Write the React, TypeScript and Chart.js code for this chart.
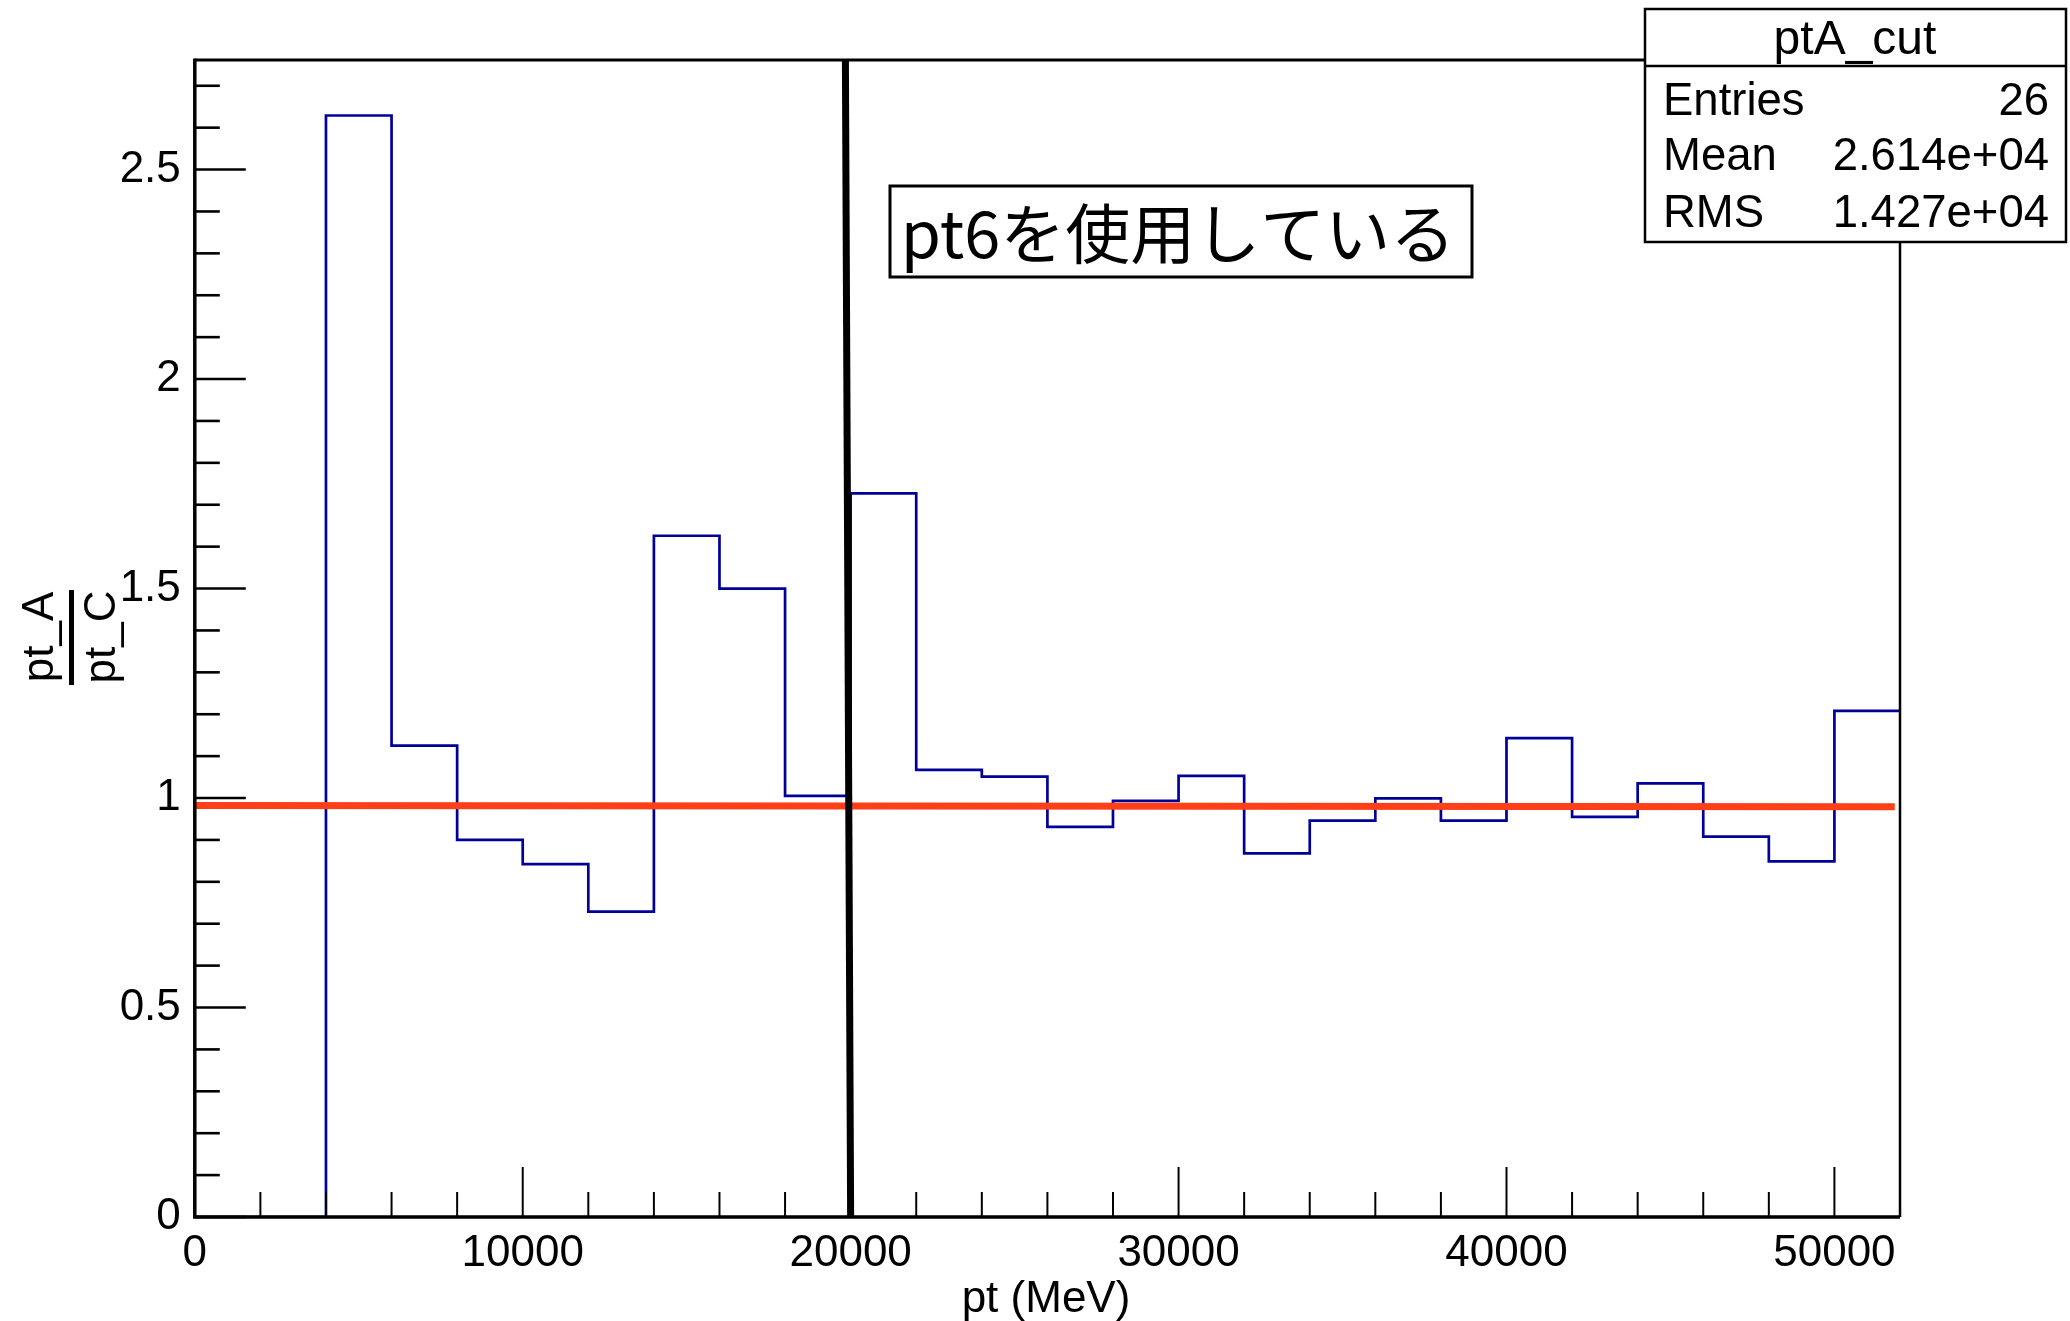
import React, { useEffect, useRef } from "react";
import { Chart, registerables } from "chart.js";

Chart.register(...registerables);

// ---- data ----
const binLow = 0;
const binWidth = 2000;
const binValues = [
  0, 0, 2.629, 1.125, 0.9, 0.842, 0.729, 1.626, 1.5, 1.005,
  1.727, 1.067, 1.051, 0.931, 0.993, 1.053, 0.868, 0.946, 0.999, 0.946,
  1.143, 0.955, 1.035, 0.908, 0.849, 1.208,
];
const fitX = [0, 51840];
const fitY = [0.982, 0.979];
const cutX = [20000, 19840];
const cutY = [0, 2.7615];
const xMin = 0;
const xMax = 52000;
const yMin = 0;
const yMax = 2.7615;
const xTickValues = [0, 10000, 20000, 30000, 40000, 50000];
const yTickValues = [0, 0.5, 1, 1.5, 2, 2.5];
const statsTitle = "ptA_cut";
const statsLabels = ["Entries", "Mean", "RMS"];
const statsValues = ["26", "2.614e+04", "1.427e+04"];
const noteText = "pt6を使用している";
const xTitle = "pt (MeV)";
const yTitleNum = "pt_A";
const yTitleDen = "pt_C";

const SANS = '"Liberation Sans", Arial, Helvetica, sans-serif';

export default function App() {
  const ref = useRef<HTMLCanvasElement | null>(null);

  useEffect(() => {
    document.body.style.margin = "0";
    const canvas = ref.current;
    if (!canvas) return;

    const histPoints = binValues.map((v, i) => ({ x: binLow + i * binWidth, y: v }));
    histPoints.push({ x: binLow + binValues.length * binWidth, y: binValues[binValues.length - 1] });
    const fitPoints = fitX.map((x, i) => ({ x, y: fitY[i] }));
    const cutPoints = cutX.map((x, i) => ({ x, y: cutY[i] }));

    const framePlugin = {
      id: "frame",
      afterDatasetsDraw(chart: any) {
        const ctx = chart.ctx;
        const { left, right, top, bottom } = chart.chartArea;
        const xs = chart.scales.x;
        const ys = chart.scales.y;
        ctx.save();
        ctx.strokeStyle = "#000";
        // y ticks (inside)
        ctx.lineWidth = 2.6;
        for (let i = 0; i <= 27; i++) {
          const v = i / 10;
          if (v > yMax) break;
          const py = ys.getPixelForValue(v);
          const len = i % 5 === 0 ? 51 : 25;
          ctx.beginPath();
          ctx.moveTo(left, py);
          ctx.lineTo(left + len, py);
          ctx.stroke();
        }
        // x ticks (inside)
        ctx.lineWidth = 2;
        for (let i = 0; i <= 25; i++) {
          const v = i * 2000;
          const px = xs.getPixelForValue(v);
          const len = i % 5 === 0 ? 50 : 25;
          ctx.beginPath();
          ctx.moveTo(px, bottom);
          ctx.lineTo(px, bottom - len);
          ctx.stroke();
        }
        // frame
        ctx.lineWidth = 3;
        ctx.beginPath();
        ctx.moveTo(left, top);
        ctx.lineTo(right, top);
        ctx.stroke();
        ctx.lineWidth = 2.5;
        ctx.beginPath();
        ctx.moveTo(right, top);
        ctx.lineTo(right, bottom);
        ctx.stroke();
        ctx.lineWidth = 3.5;
        ctx.beginPath();
        ctx.moveTo(left, top - 1.5);
        ctx.lineTo(left, bottom);
        ctx.lineTo(right, bottom);
        ctx.stroke();
        ctx.restore();
      },
    };

    const overlayPlugin = {
      id: "overlay",
      afterDraw(chart: any) {
        const ctx = chart.ctx;
        ctx.save();
        ctx.fillStyle = "#000";
        ctx.strokeStyle = "#000";

        // note box
        ctx.fillStyle = "#fff";
        ctx.fillRect(890, 186, 582, 91);
        ctx.lineWidth = 3;
        ctx.strokeRect(890, 186, 582, 91);
        ctx.fillStyle = "#000";
        ctx.font = '65px "Noto Sans CJK JP", sans-serif';
        ctx.textAlign = "center";
        ctx.textBaseline = "alphabetic";
        ctx.fillText(noteText, 1178, 258);

        // stats box
        ctx.fillStyle = "#fff";
        ctx.fillRect(1645, 9, 421, 233);
        ctx.lineWidth = 2.5;
        ctx.strokeRect(1645, 9, 421, 233);
        ctx.beginPath();
        ctx.moveTo(1645, 66);
        ctx.lineTo(2066, 66);
        ctx.stroke();
        ctx.fillStyle = "#000";
        ctx.font = `48px ${SANS}`;
        ctx.textAlign = "center";
        ctx.textBaseline = "middle";
        ctx.fillText(statsTitle, 1855, 41);
        ctx.font = `45.5px ${SANS}`;
        const rowsY = [102, 157.5, 214];
        statsLabels.forEach((lab, i) => {
          ctx.textAlign = "left";
          ctx.fillText(lab, 1663, rowsY[i]);
          ctx.textAlign = "right";
          ctx.fillText(statsValues[i], 2049, rowsY[i]);
        });

        // x title
        ctx.font = `44px ${SANS}`;
        ctx.textAlign = "center";
        ctx.textBaseline = "alphabetic";
        ctx.fillText(xTitle, 1046, 1312);

        // y title (fraction, rotated)
        const yc = 637;
        ctx.save();
        ctx.translate(53, yc);
        ctx.rotate(-Math.PI / 2);
        ctx.fillText(yTitleNum, 0, 0);
        ctx.restore();
        ctx.save();
        ctx.translate(115, yc);
        ctx.rotate(-Math.PI / 2);
        ctx.fillText(yTitleDen, 0, 0);
        ctx.restore();
        ctx.lineWidth = 5;
        ctx.beginPath();
        ctx.moveTo(71.5, 590);
        ctx.lineTo(71.5, 685);
        ctx.stroke();

        ctx.restore();
      },
    };

    const chart = new Chart(canvas, {
      type: "line",
      data: {
        datasets: [
          {
            label: "hist",
            data: histPoints,
            stepped: "before",
            borderColor: "#000099",
            borderWidth: 2.7,
            pointRadius: 0,
            fill: false,
            order: 3,
          } as any,
          {
            label: "fit",
            data: fitPoints,
            borderColor: "#ff3f17",
            borderWidth: 7,
            pointRadius: 0,
            fill: false,
            order: 2,
          },
          {
            label: "cut",
            data: cutPoints,
            borderColor: "#000000",
            borderWidth: 7,
            pointRadius: 0,
            fill: false,
            order: 1,
          },
        ],
      },
      options: {
        responsive: false,
        animation: false,
        events: [],
        layout: { padding: { left: 0, top: 60, right: 170, bottom: 0 } },
        plugins: {
          legend: { display: false },
          tooltip: { enabled: false },
          title: { display: false },
        },
        scales: {
          x: {
            type: "linear",
            min: xMin,
            max: xMax,
            grid: { display: false, drawTicks: false },
            border: { display: false },
            afterBuildTicks: (s: any) => {
              s.ticks = xTickValues.map((v) => ({ value: v }));
            },
            ticks: {
              autoSkip: false,
              maxRotation: 0,
              padding: 10,
              color: "#000",
              font: { family: SANS, size: 44 },
              callback: (v: any) => String(v),
            },
            afterFit: (s: any) => {
              s.height = 104;
            },
          },
          y: {
            type: "linear",
            min: yMin,
            max: yMax,
            grid: { display: false, drawTicks: false },
            border: { display: false },
            afterBuildTicks: (s: any) => {
              s.ticks = yTickValues.map((v) => ({ value: v }));
            },
            ticks: {
              autoSkip: false,
              padding: 14,
              color: "#000",
              font: { family: SANS, size: 44 },
              callback: (v: any) => String(Math.round(Number(v) * 10) / 10),
            },
            afterFit: (s: any) => {
              s.width = 194.8;
            },
          },
        },
      },
      plugins: [framePlugin, overlayPlugin],
    });

    return () => {
      chart.destroy();
    };
  }, []);

  return (
    <div style={{ width: 2070, height: 1321, background: "#fff" }}>
      <canvas ref={ref} width={2070} height={1321} style={{ display: "block", width: 2070, height: 1321 }} />
    </div>
  );
}
